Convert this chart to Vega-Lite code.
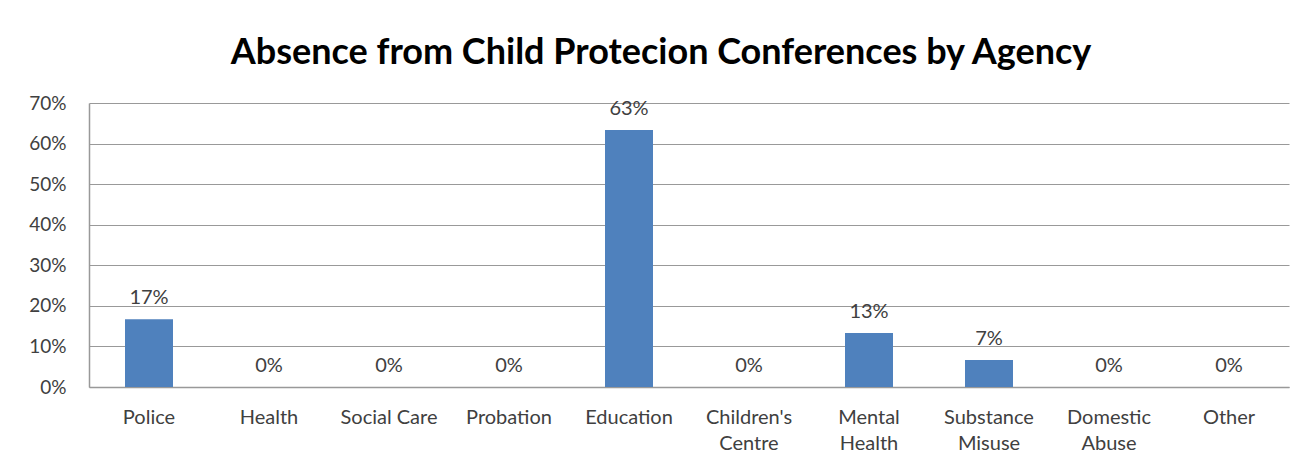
{
  "$schema": "https://vega.github.io/schema/vega-lite/v6.json",
  "width": 1200,
  "height": 284,
  "autosize": {"type": "none"},
  "padding": {"left": 89, "top": 103, "right": 16, "bottom": 75},
  "background": "white",
  "title": {
    "text": "Absence from Child Protecion Conferences by Agency",
    "font": "Lato",
    "fontSize": 36,
    "fontWeight": "bold",
    "color": "#000000",
    "anchor": "middle",
    "frame": "group",
    "dx": -28,
    "baseline": "alphabetic",
    "offset": -6
  },
  "config": {
    "view": {"stroke": null},
    "font": "Lato"
  },
  "data": {
    "values": [
      {"agency": "Police", "share": 0.1667},
      {"agency": "Health", "share": 0},
      {"agency": "Social Care", "share": 0},
      {"agency": "Probation", "share": 0},
      {"agency": "Education", "share": 0.6333},
      {"agency": "Children's Centre", "share": 0},
      {"agency": "Mental Health", "share": 0.1333},
      {"agency": "Substance Misuse", "share": 0.0667},
      {"agency": "Domestic Abuse", "share": 0},
      {"agency": "Other", "share": 0}
    ]
  },
  "encoding": {
    "x": {
      "field": "agency",
      "type": "nominal",
      "sort": null,
      "scale": {"paddingInner": 0.6, "paddingOuter": 0.3},
      "axis": {
        "title": null,
        "labelAngle": 0,
        "labelFont": "Lato",
        "labelFontSize": 20,
        "labelColor": "#404040",
        "labelPadding": 20,
        "labelLineHeight": 26,
        "labelBaseline": "top",
        "labelExpr": "datum.value == 'Social Care' ? datum.value : split(datum.value, ' ')",
        "ticks": false,
        "domainColor": "#999999",
        "domainWidth": 1.5,
        "grid": false
      }
    },
    "y": {
      "field": "share",
      "type": "quantitative",
      "scale": {"domain": [0, 0.7], "nice": false},
      "axis": {
        "title": null,
        "values": [0, 0.1, 0.2, 0.3, 0.4, 0.5, 0.6, 0.7],
        "format": ".0%",
        "labelFont": "Lato",
        "labelFontSize": 19,
        "labelColor": "#404040",
        "labelPadding": 23,
        "ticks": false,
        "domainColor": "#999999",
        "domainWidth": 1.5,
        "gridColor": "#999999",
        "gridWidth": 1.2
      }
    }
  },
  "layer": [
    {
      "mark": {"type": "bar", "color": "#4F81BD"}
    },
    {
      "mark": {"type": "text", "baseline": "alphabetic", "dy": -15, "font": "Lato", "fontSize": 20, "color": "#404040"},
      "encoding": {
        "text": {"field": "share", "type": "quantitative", "format": ".0%"}
      }
    }
  ]
}
